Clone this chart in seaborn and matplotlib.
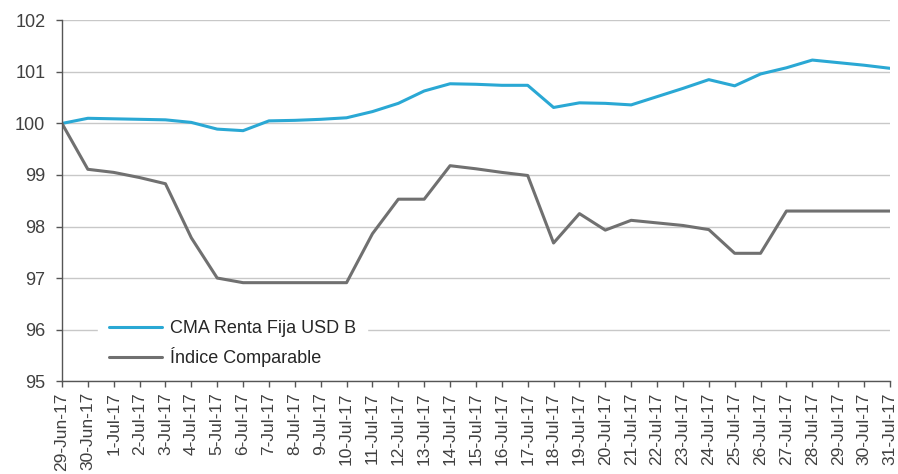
import matplotlib
matplotlib.use("Agg")
import matplotlib.pyplot as plt
import seaborn as sns
import pandas as pd

dates = ["29-Jun-17", "30-Jun-17"] + [f"{d}-Jul-17" for d in range(1, 32)]

cma_renta_fija = [100.00, 100.10, 100.09, 100.08, 100.07, 100.02, 99.89, 99.86,
                  100.05, 100.06, 100.08, 100.11, 100.23, 100.39, 100.63, 100.77,
                  100.76, 100.74, 100.74, 100.31, 100.40, 100.39, 100.36, 100.52,
                  100.68, 100.85, 100.73, 100.96, 101.08, 101.23, 101.18, 101.13,
                  101.07]

indice_comparable = [100.00, 99.11, 99.05, 98.95, 98.83, 97.78, 97.00, 96.91,
                     96.91, 96.91, 96.91, 96.91, 97.86, 98.53, 98.53, 99.18,
                     99.12, 99.05, 98.99, 97.68, 98.25, 97.93, 98.12, 98.07,
                     98.02, 97.94, 97.48, 97.48, 98.30, 98.30, 98.30, 98.30,
                     98.30]

series_names = ["CMA Renta Fija USD B", "Índice Comparable"]
series_colors = ["#2aa8d4", "#707070"]

sns.set_style("white")
plt.rcParams["font.family"] = ["Liberation Sans", "DejaVu Sans"]

n = len(dates)
df = pd.DataFrame({
    "pos": list(range(n)) * 2,
    "valor": cma_renta_fija + indice_comparable,
    "serie": [series_names[0]] * n + [series_names[1]] * n,
})

fig = plt.figure(figsize=(8.98, 4.74), dpi=100)
ax = fig.add_axes([0.069, 0.196, 0.922, 0.761])

sns.lineplot(data=df, x="pos", y="valor", hue="serie", hue_order=series_names,
             palette=series_colors, linewidth=2.2, ax=ax, legend=True)

ax.set_xlim(0, n - 1)
ax.set_ylim(95, 102)
ax.set_yticks(range(95, 103))
ax.set_yticklabels([str(v) for v in range(95, 103)], fontsize=13, color="#404040")
ax.set_xticks(range(n))
ax.set_xticklabels(dates, rotation=90, fontsize=12.5, color="#404040")
ax.set_xlabel("")
ax.set_ylabel("")

ax.yaxis.grid(True, color="#c8c8c8", linewidth=1.0)
ax.set_axisbelow(True)
for side in ("top", "right"):
    ax.spines[side].set_visible(False)
for side in ("left", "bottom"):
    ax.spines[side].set_color("#555555")
    ax.spines[side].set_linewidth(1.0)
ax.tick_params(axis="y", which="major", direction="out", length=4,
               width=1.0, color="#555555", pad=8, left=True)
ax.tick_params(axis="x", which="major", direction="out", length=4,
               width=1.0, color="#555555", pad=4, bottom=True)

leg = ax.legend(loc="center left", bbox_to_anchor=(0.044, 0.104),
                borderaxespad=0, frameon=True, fontsize=13,
                handlelength=2.9, handletextpad=0.45,
                labelspacing=0.55, borderpad=0.6)
leg.get_frame().set_facecolor("white")
leg.get_frame().set_edgecolor("white")
leg.get_frame().set_alpha(1.0)
for line in leg.get_lines():
    line.set_linewidth(2.2)

fig.savefig("out.png", dpi=100)
